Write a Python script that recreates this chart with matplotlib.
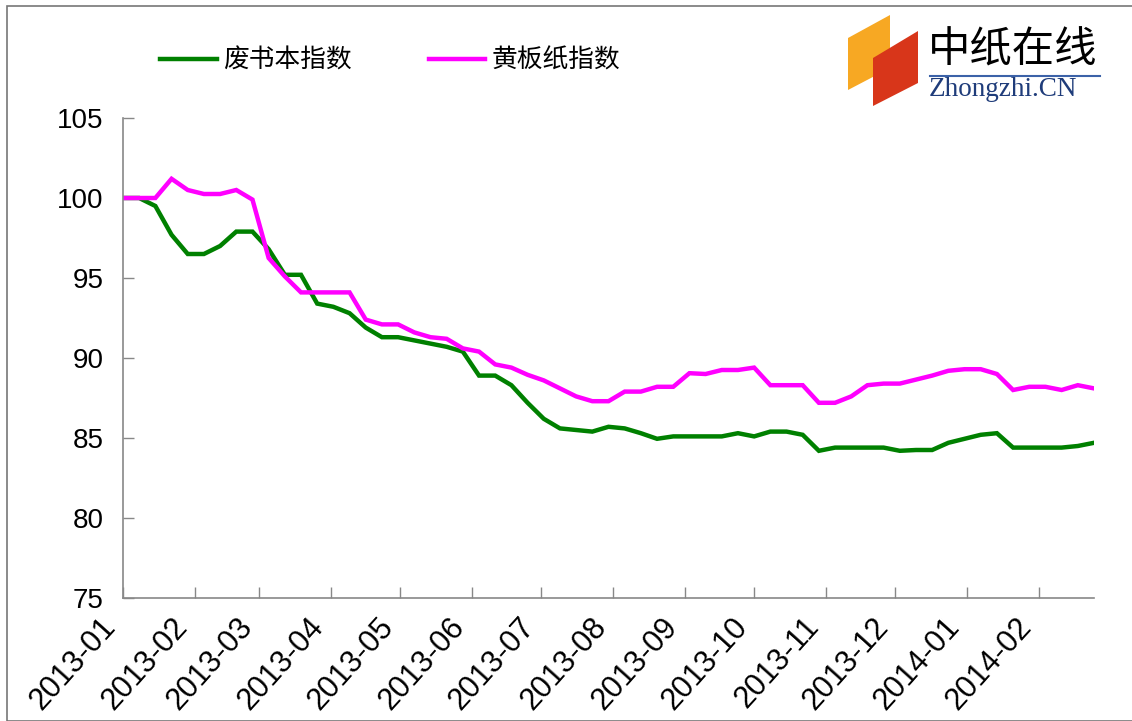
import numpy as np
import pandas as pd
import matplotlib
matplotlib.use("Agg")
import matplotlib.pyplot as plt
import matplotlib.transforms as mtransforms
from matplotlib.patches import Polygon, Rectangle
from matplotlib.lines import Line2D

plt.rcParams['font.family'] = ['Liberation Sans', 'Noto Sans CJK SC', 'DejaVu Sans']

# ==================== DATA ====================
dates = pd.date_range("2013-01-01", periods=61, freq="7D")

feishuben = [100, 100, 99.5, 97.7, 96.5, 96.5, 97.0, 97.9, 97.9, 96.8,
             95.2, 95.2, 93.4, 93.2, 92.8, 91.9, 91.3, 91.3, 91.1, 90.9,
             90.7, 90.4, 88.9, 88.9, 88.3, 87.2, 86.2, 85.6, 85.5, 85.4,
             85.7, 85.6, 85.3, 84.95, 85.1, 85.1, 85.1, 85.1, 85.3, 85.1,
             85.4, 85.4, 85.2, 84.2, 84.4, 84.4, 84.4, 84.4, 84.2, 84.25,
             84.25, 84.7, 84.95, 85.2, 85.3, 84.4, 84.4, 84.4, 84.4, 84.5,
             84.7]

huangbanzhi = [100, 100, 100, 101.2, 100.5, 100.25, 100.25, 100.5, 99.9, 96.25,
               95.1, 94.1, 94.1, 94.1, 94.1, 92.4, 92.1, 92.1, 91.6, 91.3,
               91.2, 90.6, 90.4, 89.6, 89.4, 88.95, 88.6, 88.1, 87.6, 87.3,
               87.3, 87.9, 87.9, 88.2, 88.2, 89.05, 89.0, 89.25, 89.25, 89.4,
               88.3, 88.3, 88.3, 87.2, 87.2, 87.6, 88.3, 88.4, 88.4, 88.65,
               88.9, 89.2, 89.3, 89.3, 89.0, 88.0, 88.2, 88.2, 88.0, 88.3,
               88.1]

series_names = ["废书本指数", "黄板纸指数"]
series_colors = ["#008000", "#ff00ff"]
y_ticks = [75, 80, 85, 90, 95, 100, 105]
month_ticks = pd.date_range("2013-01-01", "2014-02-01", freq="MS")

# ==================== FIGURE ====================
W, H = 1132, 721
fig = plt.figure(figsize=(W / 100, H / 100), dpi=100)
ax = fig.add_axes([123 / W, (H - 598) / H, 971 / W, 480 / H])

ax.plot(dates, feishuben, color=series_colors[0], lw=3.2, solid_joinstyle='miter')
ax.plot(dates, huangbanzhi, color=series_colors[1], lw=3.2, solid_joinstyle='miter')

ax.set_xlim(dates[0], dates[-1])
ax.set_ylim(75, 105)
ax.set_yticks(y_ticks)
ax.set_yticklabels([str(t) for t in y_ticks], fontsize=20)
ax.set_xticks(month_ticks)
ax.set_xticklabels([d.strftime("%Y-%m") for d in month_ticks], fontsize=22,
                   rotation=48, ha='right', va='top', rotation_mode='anchor')
ax.tick_params(axis='both', direction='in', length=8, color='#888888', width=1)
ax.tick_params(axis='y', pad=14)
ax.tick_params(axis='x', pad=10)

# shift x labels to the left like the original
shift = mtransforms.ScaledTranslation(-23 / 100, 0, fig.dpi_scale_trans)
for lbl in ax.get_xticklabels():
    lbl.set_transform(lbl.get_transform() + shift)

for s in ['top', 'right']:
    ax.spines[s].set_visible(False)
for s in ['left', 'bottom']:
    ax.spines[s].set_color('#888888')
    ax.spines[s].set_linewidth(1.2)

# legend
handles = [Line2D([], [], color=c, lw=3.2) for c in series_colors]
fig.legend(handles, series_names, loc='center left', bbox_to_anchor=(137 / W, 1 - 61 / H),
           ncol=2, frameon=False, handlelength=2.2, handletextpad=0.25, columnspacing=3.0,
           prop={'family': ['Noto Sans CJK SC'], 'size': 18.5})

# outer frame
fig.patches.append(Rectangle((7 / W, 0), 1.2, 1 - 6 / H, transform=fig.transFigure,
                             fill=False, edgecolor='#777777', lw=1.2))

# logo
def fx(x):
    return x / W

def fy(y):
    return 1 - y / H

fig.patches.append(Polygon([(fx(848), fy(38)), (fx(890), fy(15)), (fx(890), fy(68)), (fx(848), fy(90))],
                           closed=True, transform=fig.transFigure, facecolor='#f7a823', edgecolor='none'))
fig.patches.append(Polygon([(fx(873), fy(58)), (fx(918), fy(31)), (fx(918), fy(83)), (fx(873), fy(106))],
                           closed=True, transform=fig.transFigure, facecolor='#d8361a', edgecolor='none'))
fig.text(fx(928), fy(51), "中纸在线", family=['Noto Sans CJK SC'], fontsize=30.5,
         color='black', va='center', ha='left')
fig.add_artist(Line2D([fx(930), fx(1100)], [fy(76), fy(76)], color='#3c62a8', lw=1.5,
                      transform=fig.transFigure))
fig.text(fx(929), fy(90), "Zhongzhi.CN", family=['Liberation Serif'], fontsize=19.5,
         color='#1f3c7a', va='center', ha='left')

fig.savefig("out.png", dpi=100)
